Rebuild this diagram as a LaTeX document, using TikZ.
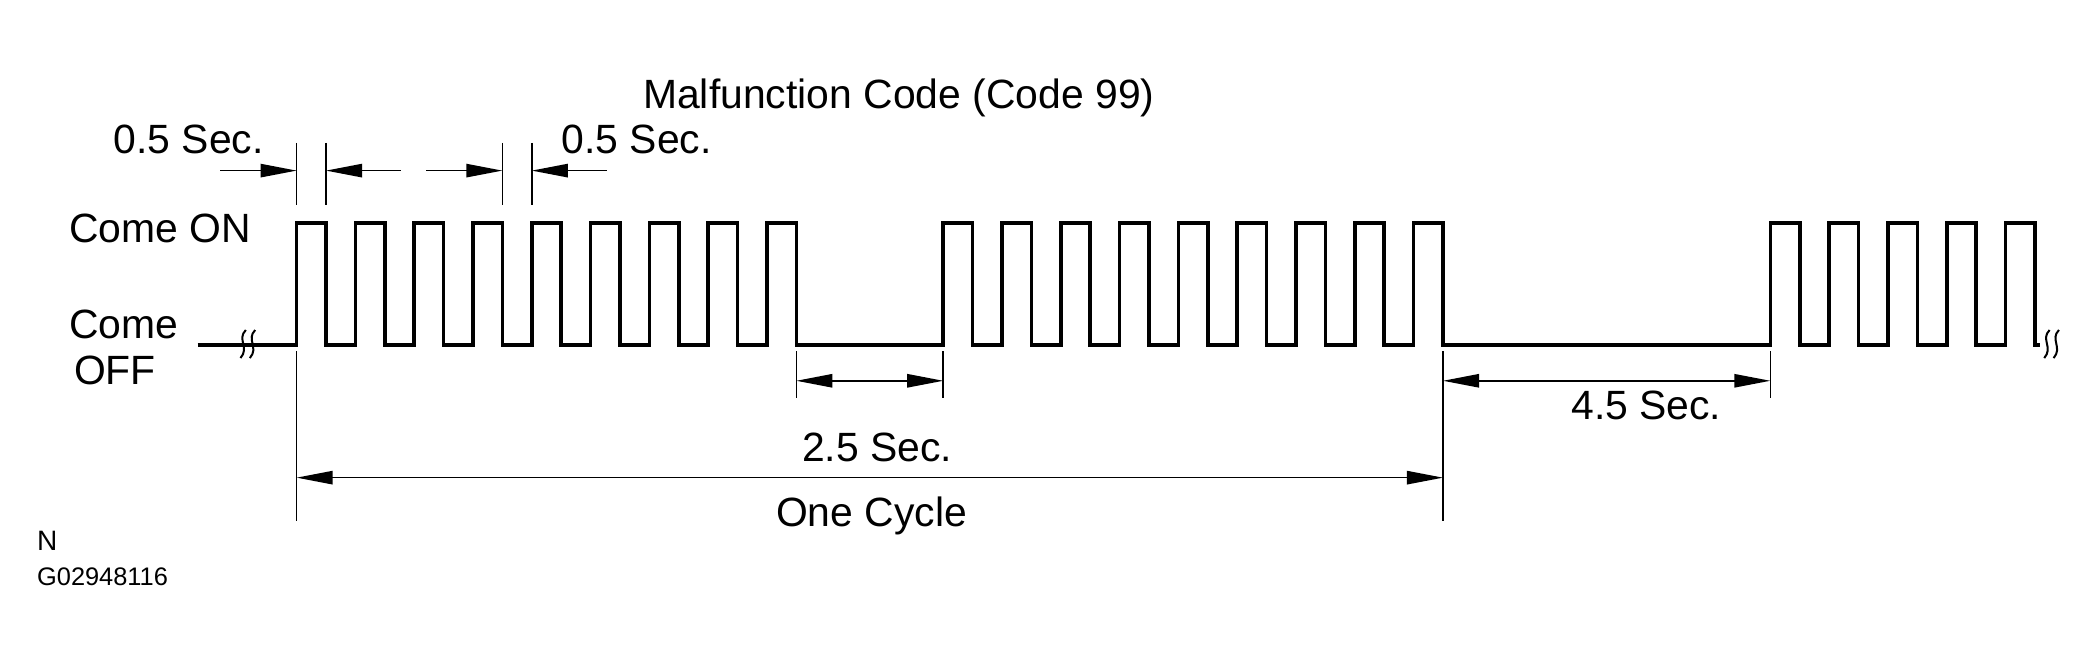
\documentclass[tikz,border=0pt]{standalone}
\usepackage{fontspec}
\setmainfont{Liberation Sans}
\usetikzlibrary{arrows.meta}
\begin{document}
\begin{tikzpicture}[x=0.5pt,y=-0.5pt,
  lbl/.style={inner sep=0pt, anchor=base west, font=\fontsize{15.3}{18}\selectfont},
  nlbl/.style={inner sep=0pt, anchor=base west, font=\fontsize{10.5}{12}\selectfont},
  glbl/.style={inner sep=0pt, anchor=base west, font=\fontsize{9.5}{11}\selectfont},
  sig/.style={line width=1.35pt, line join=miter, line cap=butt},
  dim/.style={line width=0.6pt},
  ext/.style={line width=0.6pt},
  tipr/.style={-{Triangle[length=13.5pt,width=5pt]}},
  dtip/.style={{Triangle[length=13.5pt,width=5pt]}-{Triangle[length=13.5pt,width=5pt]}},
  brk/.style={line width=0.75pt}]
\useasboundingbox (0,0) rectangle (1568,502);

% ---- labels ----
\node[lbl] (title) at (481,81) {Malfunction Code (Code 99)};
\node[lbl] (halfL) at (84.8,114.6) {0.5 Sec.};
\node[lbl] (halfR) at (420,114.6) {0.5 Sec.};
\node[lbl] (on) at (51.5,181.6) {Come ON};
\node[lbl] (off1) at (51.5,253) {Come};
\node[lbl] (off2) at (55,288) {OFF};
\node[lbl] (two) at (600,345.5) {2.5 Sec.};
\node[lbl] (cyc) at (580.5,394) {One Cycle};
\node[lbl] (four) at (1175.6,314) {4.5 Sec.};
\node[nlbl] (nn) at (27.4,412) {N};
\node[glbl] (gg) at (27.4,438) {G02948116};

% ---- signal ----
\draw[sig] (148,258) -- (222,258)
  \foreach \k in {0,...,8} { -- ({222+44*\k},258) -- ({222+44*\k},167) -- ({244+44*\k},167) -- ({244+44*\k},258) }
  \foreach \k in {0,...,8} { -- ({706+44*\k},258) -- ({706+44*\k},167) -- ({728+44*\k},167) -- ({728+44*\k},258) }
  \foreach \k in {0,...,4} { -- ({1325+44*\k},258) -- ({1325+44*\k},167) -- ({1347+44*\k},167) -- ({1347+44*\k},258) }
  -- (1527,258);

% ---- break marks ----
\foreach \bx in {182,189} {
  \draw[brk] (\bx+2,247) .. controls (\bx-5,254) and (\bx+5,260) .. (\bx-2,268);
}
\foreach \bx in {1532,1539} {
  \draw[brk] (\bx+2,247) .. controls (\bx-5,254) and (\bx+5,260) .. (\bx-2,268);
}

% ---- top ticks ----
\foreach \n/\x in {ta/222,tb/244,tc/376,td/398} {
  \coordinate (\n top) at (\x,107);
  \coordinate (\n bot) at (\x,153.5);
  \coordinate (\n) at (\x,127.7);
  \draw[ext] (\n top) -- (\n bot);
}
\coordinate (aa) at (165,127.7);
\coordinate (ab) at (300,127.7);
\coordinate (ac) at (319,127.7);
\coordinate (ad) at (454,127.7);
\draw[dim,tipr] (aa) -- (ta);
\draw[dim,tipr] (ab) -- (tb);
\draw[dim,tipr] (ac) -- (tc);
\draw[dim,tipr] (ad) -- (td);

% ---- bottom extension lines ----
\coordinate (e1t) at (222,263);   \coordinate (e1b) at (222,390);
\coordinate (e2t) at (596,263);   \coordinate (e2b) at (596,298);
\coordinate (e3t) at (706,263);   \coordinate (e3b) at (706,298);
\coordinate (e4t) at (1080,263);  \coordinate (e4b) at (1080,390);
\coordinate (e5t) at (1325,263);  \coordinate (e5b) at (1325,298);
\foreach \i in {1,...,5} { \draw[ext] (e\i t) -- (e\i b); }

\coordinate (g1) at (596,285);  \coordinate (g2) at (706,285);
\coordinate (c1) at (222,357.5); \coordinate (c2) at (1080,357.5);
\coordinate (f1) at (1080,285); \coordinate (f2) at (1325,285);
\draw[dim,dtip] (g1) -- (g2);
\draw[dim,dtip] (c1) -- (c2);
\draw[dim,dtip] (f1) -- (f2);
\end{tikzpicture}
\end{document}
